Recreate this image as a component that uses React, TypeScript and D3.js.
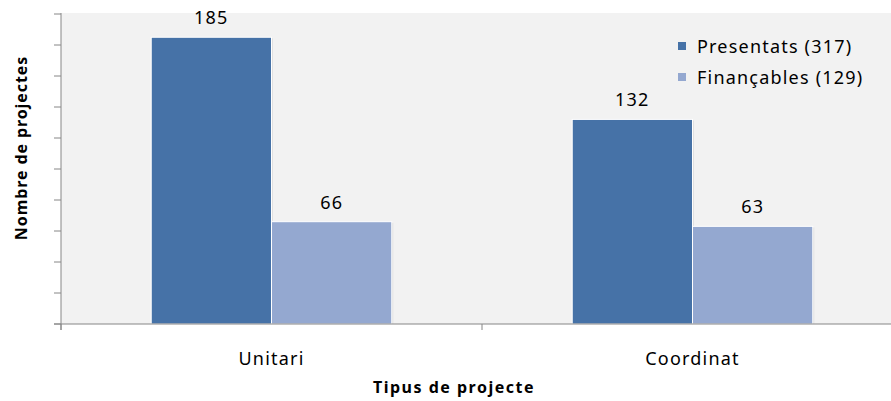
import React from 'react';
import * as d3 from 'd3';

const categories = ['Unitari', 'Coordinat'];
const seriesNames = ['Presentats (317)', 'Finançables (129)'];
const presentats = [185, 132];
const financables = [66, 63];
const yTicks = [0, 20, 40, 60, 80, 100, 120, 140, 160, 180, 200];

const colors = ['#4672a7', '#94a8d0'];

const width = 891;
const height = 401;
const margin = { top: 14, left: 61, bottom: 324, right: 903 };
const font = '"Noto Sans", sans-serif';

const App: React.FC = () => {
  const x = d3.scaleBand<string>().domain(categories).range([margin.left, margin.right]).paddingInner(0).paddingOuter(0);
  const y = d3.scaleLinear().domain([0, 200]).range([margin.bottom, margin.top]);
  const inner = d3.scaleBand<number>().domain([0, 1]).range([0, x.bandwidth()]).paddingOuter(0.75).paddingInner(0);

  const series = [presentats, financables];

  return (
    <svg width={width} height={height} style={{ position: 'absolute', left: 0, top: 0, background: '#fff' }}>
      <rect x={margin.left} y={13} width={width - margin.left} height={margin.bottom - 13} fill="#f2f2f2" />

      {/* bars */}
      {series.map((vals, si) =>
        vals.map((v, ci) => {
          const bx = (x(categories[ci]) as number) + (inner(si) as number);
          const by = y(v);
          const bw = inner.bandwidth();
          return (
            <g key={`${si}-${ci}`}>
              <rect x={bx + 1.5} y={by + 1} width={bw} height={margin.bottom - by - 1} fill="rgba(0,0,0,0.07)" />
              <rect x={bx} y={by} width={bw} height={margin.bottom - by} fill={colors[si]} stroke="#fff" strokeWidth={1} />
              <text x={bx + bw / 2} y={by - 13} textAnchor="middle" fontFamily={font} fontSize={18} letterSpacing={1.2} fill="#000">
                {v}
              </text>
            </g>
          );
        })
      )}

      {/* y axis */}
      <line x1={margin.left} x2={margin.left} y1={13} y2={margin.bottom + 6} stroke="#868686" />
      {yTicks.map(t => (
        <line key={t} x1={margin.left - 7} x2={margin.left} y1={y(t)} y2={y(t)} stroke="#868686" />
      ))}

      {/* x axis */}
      <line x1={margin.left - 7} x2={width} y1={margin.bottom} y2={margin.bottom} stroke="#868686" />
      {categories.map(c => (
        <line key={c} x1={x(c)} x2={x(c)} y1={margin.bottom} y2={margin.bottom + 6} stroke="#868686" />
      ))}
      {categories.map(c => (
        <text key={c} x={(x(c) as number) + x.bandwidth() / 2} y={365} textAnchor="middle" fontFamily={font} fontSize={18} letterSpacing={1.2} fill="#000">
          {c}
        </text>
      ))}

      <text x={454} y={393} textAnchor="middle" fontFamily={font} fontSize={16} fontWeight="bold" letterSpacing={1.5} fill="#000">
        Tipus de projecte
      </text>
      <text transform="translate(27,148) rotate(-90)" textAnchor="middle" fontFamily={font} fontSize={16} fontWeight="bold" letterSpacing={0.9} fill="#000">
        Nombre de projectes
      </text>

      {/* legend */}
      {seriesNames.map((s, i) => (
        <g key={s}>
          <rect x={678} y={42 + i * 31} width={8} height={8} fill={colors[i]} />
          <text x={697} y={53 + i * 31} fontFamily={font} fontSize={18} letterSpacing={1.2} fill="#000">
            {s}
          </text>
        </g>
      ))}
    </svg>
  );
};

export default App;
